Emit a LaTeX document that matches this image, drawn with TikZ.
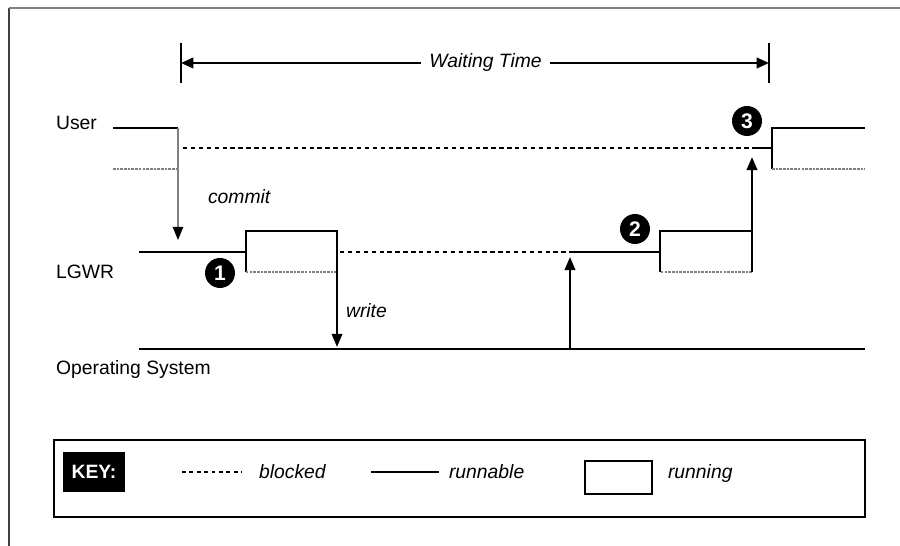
\documentclass[tikz,border=0pt]{standalone}
\usepackage{fontspec}
\setmainfont{Liberation Sans}
\usetikzlibrary{arrows.meta}

\begin{document}
\begin{tikzpicture}[x=0.02cm, y=-0.02cm, line width=1.2pt,
    font=\fontsize{11}{13}\selectfont,
    blocked/.style={line width=1.6pt, dash pattern=on 2.5pt off 2pt},
    idle/.style={line width=0.6pt, gray, dash pattern=on 1.5pt off 0.6pt},
    sendarrow/.style={-{Triangle[width=6pt, length=7.5pt, color=black]}},
    lane/.style={anchor=west, inner sep=0pt, text height=8pt, text depth=2pt},
    act/.style={lane, font=\fontsize{11}{13}\selectfont\itshape},
    badge/.style={circle, fill=black, text=white, inner sep=0pt,
        minimum size=0.6cm, font=\fontsize{12}{12}\selectfont\bfseries}]
\useasboundingbox (0,0) rectangle (900,546);

% frame
\coordinate (f0) at (9, 546);
\coordinate (f1) at (9, 8);
\coordinate (f2) at (900, 8);
\draw[black!75, line width=0.9pt] (f0) -- (f1);
\draw[gray, line width=0.8pt] (f1) -- (f2);

% waiting time
\coordinate (w1) at (181, 43);
\coordinate (w2) at (181, 83);
\coordinate (w3) at (769, 43);
\coordinate (w4) at (769, 83);
\coordinate (wl) at (181, 63);
\coordinate (wr) at (769, 63);

\draw (w1) -- (w2);
\draw (w3) -- (w4);
\draw[{Triangle[width=6pt, length=7pt]}-{Triangle[width=6pt, length=7pt]}]
    (wl) -- node[pos=0.518, fill=white, inner sep=5pt, font=\fontsize{11}{13}\selectfont\itshape] (wt) {Waiting Time} (wr);

% user
\coordinate (u1) at (113, 128);
\coordinate (u2) at (178, 128);
\coordinate (u3) at (113, 169);
\coordinate (u4) at (178, 169);
\coordinate (u5) at (183, 148);
\coordinate (u6) at (752, 148);
\coordinate (u7) at (772, 148);
\coordinate (u8) at (772, 128);
\coordinate (u9) at (865, 128);
\coordinate (u10) at (772, 169);
\coordinate (u11) at (865, 169);

\draw (u1) -- (u2);
\draw[idle] (u3) -- (u4);
\draw[blocked] (u5) -- (u6);
\draw (u6) -- (u7);
\draw (u9) -- (u8) -- (u10);
\draw[idle] (u10) -- (u11);

% lgwr
\coordinate (l1) at (139, 252);
\coordinate (l2) at (246, 252);
\coordinate (l3) at (246, 231);
\coordinate (l4) at (337, 231);
\coordinate (l5) at (337, 272);
\coordinate (l6) at (246, 272);
\coordinate (l7) at (340, 252);
\coordinate (l8) at (570, 252);
\coordinate (l9) at (660, 252);
\coordinate (l10) at (660, 231);
\coordinate (l11) at (752, 231);
\coordinate (l12) at (752, 272);
\coordinate (l13) at (660, 272);

\draw (l1) -- (l2);
\draw (l6) -- (l3) -- (l4) -- (l5);
\draw[idle] (l5) -- (l6);
\draw[blocked] (l7) -- (l8);
\draw (l8) -- (l9);
\draw (l13) -- (l10) -- (l11);
\draw[idle] (l12) -- (l13);

% operating system
\coordinate (o1) at (139, 349);
\coordinate (o2) at (865, 349);
\coordinate (o3) at (570, 349);
\draw[line width=1.5pt] (o1) -- (o2);

% calls
\coordinate (ct) at (178, 240);
\coordinate (wt2) at (337, 347);
\coordinate (pt) at (570, 257);
\coordinate (rt) at (752, 157);

\draw[gray, line width=0.7pt, sendarrow] (u2) -- (ct);
\draw[sendarrow] (l4) -- (wt2);
\draw[sendarrow] (o3) -- (pt);
\draw[line width=1.5pt, sendarrow] (l12) -- (rt);

% labels
\node[lane] (user) at (55, 124) {User};
\node[lane] (lgwr) at (55, 273) {LGWR};
\node[lane] (os) at (55, 369) {Operating System};
\node[act] (commit) at (207, 198) {commit};
\node[act] (write) at (345, 312) {write};

% steps
\coordinate (s1) at (220, 273);
\coordinate (s2) at (635, 229);
\coordinate (s3) at (747, 121);
\foreach \s/\n in {s1/1, s2/2, s3/3}
\node[badge] (b\n) at (\s) {\n};

% key
\coordinate (k1) at (54, 440);
\coordinate (k2) at (865, 517);
\draw[line width=1.5pt] (k1) rectangle (k2);

\node[fill=black, text=white, inner sep=0pt, minimum width=1.24cm, minimum height=0.8cm,
    font=\fontsize{11}{13}\selectfont\bfseries] (keytag) at (94, 472) {KEY:};

\coordinate (k3) at (182, 472);
\coordinate (k4) at (242, 472);
\coordinate (k5) at (371, 472);
\coordinate (k6) at (439, 472);
\coordinate (k7) at (585, 461);
\coordinate (k8) at (652, 494);

\draw[line width=1pt, dash pattern=on 2.2pt off 2pt] (k3) -- (k4);
\draw (k5) -- (k6);
\draw (k7) rectangle (k8);

\node[act] (kblocked) at (258, 473) {blocked};
\node[act] (krunnable) at (448, 473) {runnable};
\node[act] (krunning) at (667, 473) {running};
\end{tikzpicture}
\end{document}
